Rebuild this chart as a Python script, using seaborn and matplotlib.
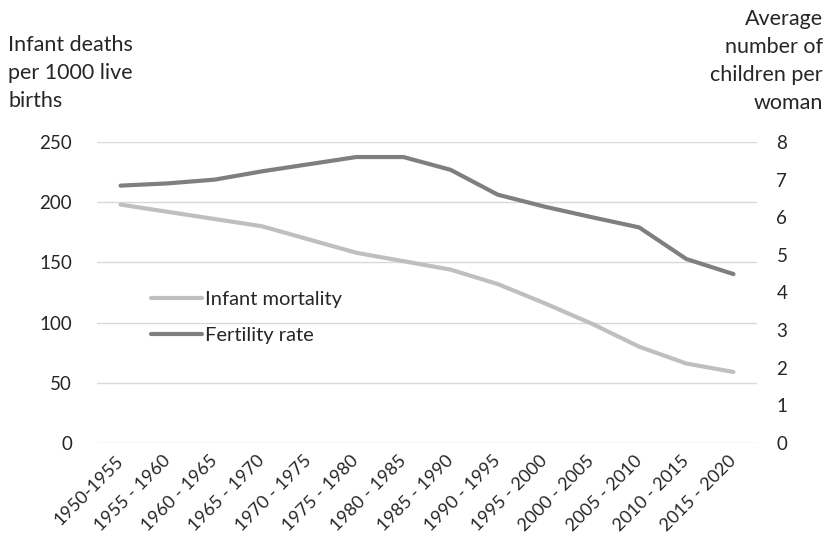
import matplotlib
matplotlib.use("Agg")
import matplotlib.pyplot as plt
import seaborn as sns
import pandas as pd

# values
periods = ["1950-1955", "1955 - 1960", "1960 - 1965", "1965 - 1970", "1970 - 1975",
           "1975 - 1980", "1980 - 1985", "1985 - 1990", "1990 - 1995", "1995 - 2000",
           "2000 - 2005", "2005 - 2010", "2010 - 2015", "2015 - 2020"]
infant_mortality = [198, 192, 186, 180, 169, 158, 151, 144, 132, 116, 99, 80, 66, 59]
fertility_rate = [6.84, 6.90, 7.00, 7.22, 7.41, 7.60, 7.60, 7.26, 6.60, 6.28, 6.00, 5.73, 4.89, 4.49]

df = pd.DataFrame({"period": periods, "infant": infant_mortality, "fertility": fertility_rate})
df["pos"] = range(len(df))

sns.set_style("white")
plt.rcParams["font.family"] = ["Lato", "DejaVu Sans"]
TXT = "#262626"

fig = plt.figure(figsize=(8.31, 5.48), dpi=100)
ax = fig.add_axes([0.1167, 0.1916, 0.7943, 0.5493])
ax2 = ax.twinx()

sns.lineplot(data=df, x="pos", y="infant", ax=ax, color="#BFBFBF", linewidth=3.0,
             label="Infant mortality", legend=False)
sns.lineplot(data=df, x="pos", y="fertility", ax=ax2, color="#7F7F7F", linewidth=3.0,
             label="Fertility rate", legend=False)

ax.set_xlim(-0.5, len(periods) - 0.5)
ax.set_ylim(0, 250)
ax.set_yticks(range(0, 251, 50))
ax2.set_ylim(0, 8)
ax2.set_yticks(range(0, 9))
ax.grid(axis="y", color="#D9D9D9", linewidth=1.0)
ax.set_axisbelow(True)
for a in (ax, ax2):
    for s in a.spines.values():
        s.set_visible(False)
    a.set_xlabel("")
    a.set_ylabel("")

ax.set_xticks(range(len(periods)))
ax.set_xticklabels(periods, rotation=45, ha="right", va="center", rotation_mode="anchor",
                   fontsize=13, color=TXT)
ax.tick_params(axis="x", length=0, pad=11)
ax.tick_params(axis="y", length=0, pad=18, labelsize=13.5, labelcolor=TXT)
ax2.tick_params(axis="y", length=0, pad=14, labelsize=13.5, labelcolor=TXT)

fig.text(8 / 831, 1 - 35 / 548, "Infant deaths\nper 1000 live\nbirths", ha="left", va="top",
         fontsize=15.5, color=TXT, linespacing=1.5)
fig.text(823 / 831, 1 - 9 / 548, "Average\nnumber of\nchildren per\nwoman", ha="right", va="top",
         fontsize=15.5, color=TXT, linespacing=1.5)

h1, l1 = ax.get_legend_handles_labels()
h2, l2 = ax2.get_legend_handles_labels()
ax2.legend(h1 + h2, l1 + l2, loc="upper left", bbox_to_anchor=(0.055, 0.565), frameon=False,
           fontsize=14.5, handlelength=2.5, handletextpad=0.15, labelspacing=0.95,
           labelcolor=TXT)

fig.savefig("out.png", dpi=100)
